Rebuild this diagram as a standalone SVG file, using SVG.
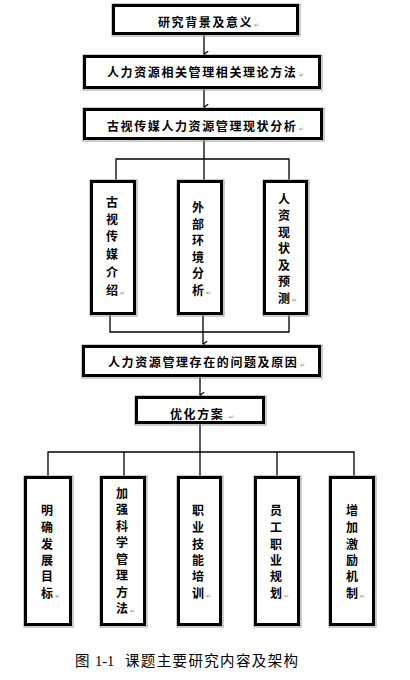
<svg xmlns="http://www.w3.org/2000/svg" width="410" height="680" viewBox="0 0 410 680">
<defs>
<marker id="arr" viewBox="0 0 10 10" refX="5" refY="9" markerWidth="7" markerHeight="7" markerUnits="userSpaceOnUse" orient="auto-start-reverse">
<path d="M1,3 L5,9 L9,3" fill="none" stroke="#000" stroke-width="1.6"/>
</marker>
</defs>
<style>
.box{fill:#fff;stroke:#000;stroke-width:3}
.sh{fill:none;stroke:#999;stroke-width:1}
.ln{fill:none;stroke:#000;stroke-width:1.3}
.t{font-family:"Noto Sans CJK SC","Noto Sans",sans-serif;font-size:12px;font-weight:bold;fill:#000;letter-spacing:1.6px}
.v{font-family:"Noto Sans CJK SC","Noto Sans",sans-serif;font-size:12px;font-weight:bold;fill:#000;text-anchor:middle}
.pm{font-family:"DejaVu Sans",sans-serif;font-size:6px;fill:#888}
.cap{font-family:"Liberation Serif","Noto Sans CJK SC",serif;font-size:14.5px;fill:#000}
</style>
<rect width="410" height="680" fill="#fff"/>
<g id="connectors">
<line class="ln" x1="204" y1="35" x2="204" y2="54" marker-end="url(#arr)"/>
<line class="ln" x1="204" y1="89" x2="204" y2="107" marker-end="url(#arr)"/>
<line class="ln" x1="204" y1="140" x2="204" y2="180"/>
<polyline class="ln" points="116,180 116,159 289,159 289,180"/>
<polyline class="ln" points="110,315 110,332 289,332 289,315"/>
<line class="ln" x1="203" y1="315" x2="203" y2="344" marker-end="url(#arr)"/>
<line class="ln" x1="200" y1="377" x2="200" y2="395" marker-end="url(#arr)"/>
<line class="ln" x1="200" y1="424" x2="200" y2="476"/>
<polyline class="ln" points="48,476 48,452 354,452 354,476"/>
<line class="ln" x1="124" y1="452" x2="124" y2="476"/>
<line class="ln" x1="277" y1="452" x2="277" y2="476"/>
</g>
<g id="n1">
<rect class="sh" x="112" y="4" width="188" height="32"/>
<rect class="box" x="113.5" y="5.5" width="184" height="28"/>
<text class="t" x="158" y="27">研究背景及意义</text><text class="pm" x="254" y="27">↵</text>
</g>
<g id="n2">
<rect class="sh" x="83" y="55" width="239" height="35"/>
<rect class="box" x="84.5" y="56.5" width="235" height="31"/>
<text class="t" x="107" y="77">人力资源相关管理相关理论方法</text><text class="pm" x="299" y="77">↵</text>
</g>
<g id="n3">
<rect class="sh" x="83" y="108" width="241" height="33"/>
<rect class="box" x="84.5" y="109.5" width="237" height="29"/>
<text class="t" x="107" y="131">古视传媒人力资源管理现状分析</text><text class="pm" x="299" y="131">↵</text>
</g>
<g id="n4">
<rect class="sh" x="90" y="180" width="47" height="136"/>
<rect class="box" x="91.5" y="181.5" width="43" height="132"/>
<text class="v" x="112"><tspan x="112" y="207">古</tspan><tspan x="112" y="224">视</tspan><tspan x="112" y="241">传</tspan><tspan x="112" y="259">媒</tspan><tspan x="112" y="277">介</tspan><tspan x="112" y="295">绍</tspan></text><text class="pm" x="120" y="295">↵</text>
</g>
<g id="n5">
<rect class="sh" x="177" y="180" width="47" height="136"/>
<rect class="box" x="178.5" y="181.5" width="43" height="132"/>
<text class="v" x="198"><tspan x="198" y="212">外</tspan><tspan x="198" y="229">部</tspan><tspan x="198" y="245">环</tspan><tspan x="198" y="262">境</tspan><tspan x="198" y="278">分</tspan><tspan x="198" y="295">析</tspan></text><text class="pm" x="206" y="295">↵</text>
</g>
<g id="n6">
<rect class="sh" x="263" y="180" width="46" height="136"/>
<rect class="box" x="264.5" y="181.5" width="42" height="132"/>
<text class="v" x="284"><tspan x="284" y="204">人</tspan><tspan x="284" y="220">资</tspan><tspan x="284" y="237">现</tspan><tspan x="284" y="253">状</tspan><tspan x="284" y="270">及</tspan><tspan x="284" y="286">预</tspan><tspan x="284" y="303">测</tspan></text><text class="pm" x="292" y="302">↵</text>
</g>
<g id="n7">
<rect class="sh" x="82" y="345" width="240" height="33"/>
<rect class="box" x="83.5" y="346.5" width="236" height="29"/>
<text class="t" x="108" y="367">人力资源管理存在的问题及原因</text><text class="pm" x="300" y="367">↵</text>
</g>
<g id="n8">
<rect class="sh" x="135" y="396" width="131" height="29"/>
<rect class="box" x="136.5" y="397.5" width="127" height="25"/>
<text class="t" x="170" y="419">优化方案</text><text class="pm" x="229" y="419">↵</text>
</g>
<g id="n9">
<rect class="sh" x="24" y="476" width="49" height="151"/>
<rect class="box" x="25.5" y="477.5" width="45" height="147"/>
<text class="v" x="47"><tspan x="47" y="515">明</tspan><tspan x="47" y="532">确</tspan><tspan x="47" y="549">发</tspan><tspan x="47" y="565">展</tspan><tspan x="47" y="581">目</tspan><tspan x="47" y="598">标</tspan></text><text class="pm" x="55" y="598">↵</text>
</g>
<g id="n10">
<rect class="sh" x="100" y="476" width="47" height="151"/>
<rect class="box" x="101.5" y="477.5" width="43" height="147"/>
<text class="v" x="122"><tspan x="122" y="498">加</tspan><tspan x="122" y="514">强</tspan><tspan x="122" y="531">科</tspan><tspan x="122" y="547">学</tspan><tspan x="122" y="564">管</tspan><tspan x="122" y="580">理</tspan><tspan x="122" y="597">方</tspan><tspan x="122" y="613">法</tspan></text><text class="pm" x="130" y="613">↵</text>
</g>
<g id="n11">
<rect class="sh" x="177" y="476" width="46" height="151"/>
<rect class="box" x="178.5" y="477.5" width="42" height="147"/>
<text class="v" x="198"><tspan x="198" y="515">职</tspan><tspan x="198" y="532">业</tspan><tspan x="198" y="549">技</tspan><tspan x="198" y="565">能</tspan><tspan x="198" y="581">培</tspan><tspan x="198" y="598">训</tspan></text><text class="pm" x="206" y="598">↵</text>
</g>
<g id="n12">
<rect class="sh" x="254" y="476" width="47" height="151"/>
<rect class="box" x="255.5" y="477.5" width="43" height="147"/>
<text class="v" x="276"><tspan x="276" y="515">员</tspan><tspan x="276" y="532">工</tspan><tspan x="276" y="549">职</tspan><tspan x="276" y="565">业</tspan><tspan x="276" y="581">规</tspan><tspan x="276" y="598">划</tspan></text><text class="pm" x="284" y="598">↵</text>
</g>
<g id="n13">
<rect class="sh" x="329" y="476" width="47" height="151"/>
<rect class="box" x="330.5" y="477.5" width="43" height="147"/>
<text class="v" x="352"><tspan x="352" y="515">增</tspan><tspan x="352" y="532">加</tspan><tspan x="352" y="549">激</tspan><tspan x="352" y="565">励</tspan><tspan x="352" y="581">机</tspan><tspan x="352" y="598">制</tspan></text><text class="pm" x="360" y="598">↵</text>
</g>
<text class="cap" y="666"><tspan x="75">图</tspan><tspan x="95">1-1</tspan><tspan x="125" textLength="173" lengthAdjust="spacing">课题主要研究内容及架构</tspan></text>
</svg>
